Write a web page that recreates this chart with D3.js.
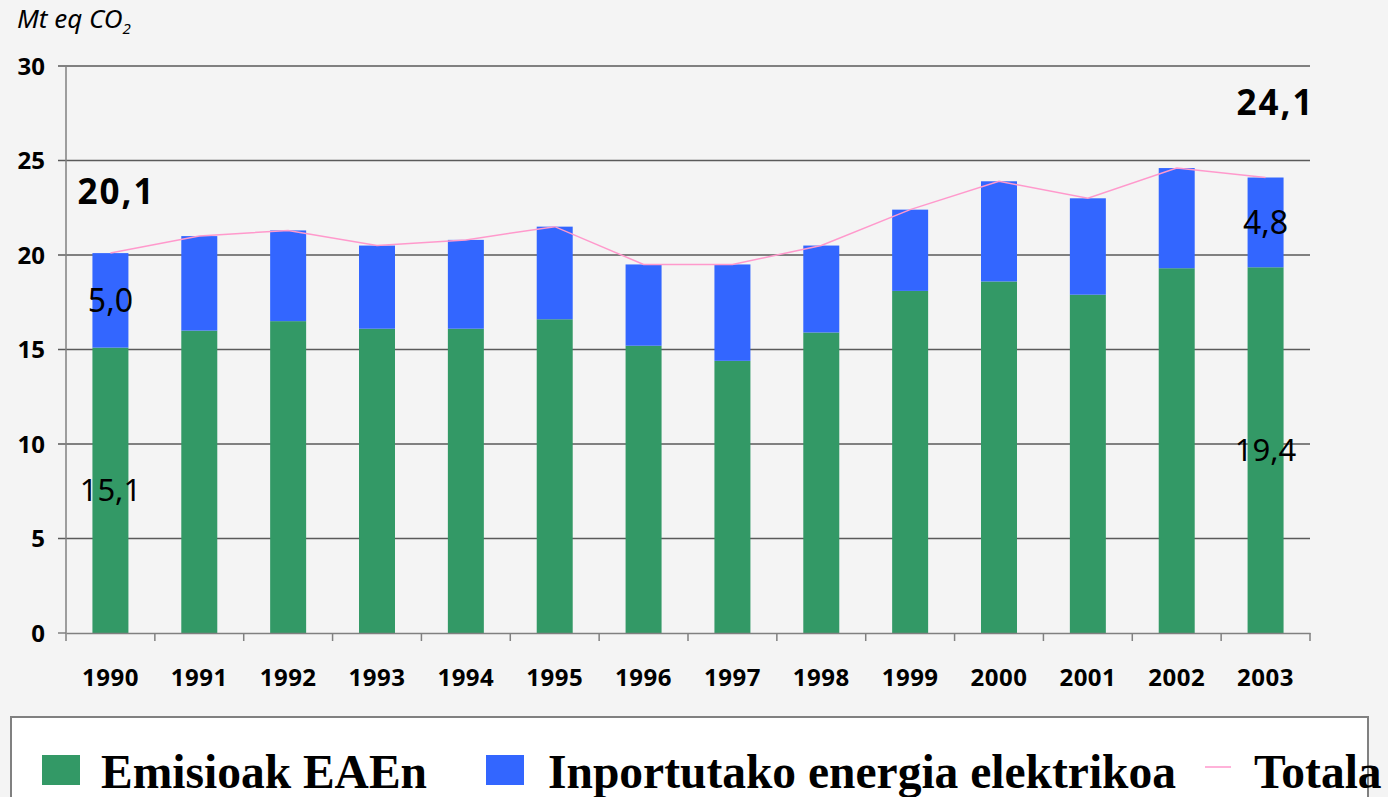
<!DOCTYPE html>
<html>
<head>
<meta charset="utf-8">
<script src="https://cdn.jsdelivr.net/npm/d3@7"></script>
<style>
    body { margin: 0; background: #f4f4f4; }
    svg { display: block; }
    .tick-label { font-family: "Comic Sans MS", "Noto Sans", sans-serif; font-weight: bold; font-size: 24px; fill: #000; }
    .legend-text { font-family: "Liberation Serif", "Times New Roman", serif; font-weight: bold; font-size: 47.5px; fill: #000; }
</style>
</head>
<body>
<div class="chart-container"></div>
<script>
// Data.
const years = [1990, 1991, 1992, 1993, 1994, 1995, 1996, 1997, 1998, 1999, 2000, 2001, 2002, 2003];
const emissions = [15.1, 16.0, 16.5, 16.1, 16.1, 16.6, 15.2, 14.4, 15.9, 18.1, 18.6, 17.9, 19.3, 19.35];
const imports = [5.0, 5.0, 4.8, 4.4, 4.7, 4.9, 4.3, 5.1, 4.6, 4.3, 5.3, 5.1, 5.3, 4.75];
const totals = [20.1, 21.0, 21.3, 20.5, 20.8, 21.5, 19.5, 19.5, 20.5, 22.4, 23.9, 23.0, 24.6, 24.1];
const yTicks = [0, 5, 10, 15, 20, 25, 30];
const labelledYears = [1990, 2003];
const seriesNames = ['Emisioak EAEn', 'Inportutako energia elektrikoa', 'Totala'];

const colors = { emissions: '#339966', imports: '#3366ff', total: '#ff99cc' };

const svg = d3
    .select('.chart-container')
    .append('svg')
    .attr('width', 1388)
    .attr('height', 797);

const locale = d3.formatLocale({ decimal: ',', thousands: '.', grouping: [3], currency: ['', ' €'] });
const fmt = locale.format('.1f');

ready();

function ready() {
    const area = { left: 66, right: 1310, top: 66, bottom: 633 };

    const xScale = d3
        .scaleBand()
        .domain(years)
        .range([area.left, area.right])
        .padding(0);

    const yScale = d3
        .scaleLinear()
        .domain([0, 30])
        .range([area.bottom, area.top]);

    const rows = years.map((year, i) => ({
        year: year,
        emissions: emissions[i],
        imports: imports[i],
        total: totals[i]
    }));

    drawGrid(area, yScale);
    drawBars(rows, xScale, yScale);
    drawLine(rows, xScale, yScale);
    drawAxis(area, xScale, yScale);
    drawLabels(rows, xScale, yScale);
    drawLegend();
}

function drawGrid(area, yScale) {
    svg.append('g')
        .selectAll('line')
        .data(yTicks.filter(t => t > 0))
        .enter()
        .append('line')
        .attr('x1', area.left - 8)
        .attr('x2', area.right)
        .attr('y1', d => yScale(d))
        .attr('y2', d => yScale(d))
        .attr('stroke', '#5a5a5a')
        .attr('stroke-width', 1.5);
}

function drawBars(rows, xScale, yScale) {
    const barWidth = xScale.bandwidth() * 0.405;
    const barX = d => xScale(d.year) + (xScale.bandwidth() - barWidth) / 2;

    const g = svg.append('g');

    g.selectAll('.bar-emissions')
        .data(rows)
        .enter()
        .append('rect')
        .attr('class', 'bar-emissions')
        .attr('x', barX)
        .attr('width', barWidth)
        .attr('y', d => yScale(d.emissions))
        .attr('height', d => yScale(0) - yScale(d.emissions))
        .style('fill', colors.emissions);

    g.selectAll('.bar-imports')
        .data(rows)
        .enter()
        .append('rect')
        .attr('class', 'bar-imports')
        .attr('x', barX)
        .attr('width', barWidth)
        .attr('y', d => yScale(d.emissions + d.imports))
        .attr('height', d => yScale(d.emissions) - yScale(d.emissions + d.imports))
        .style('fill', colors.imports);
}

function drawLine(rows, xScale, yScale) {
    const line = d3.line()
        .x(d => xScale(d.year) + xScale.bandwidth() / 2)
        .y(d => yScale(d.total));

    svg.append('path')
        .datum(rows)
        .attr('d', line)
        .attr('fill', 'none')
        .attr('stroke', colors.total)
        .attr('stroke-width', 1.5);
}

function drawAxis(area, xScale, yScale) {
    // y axis
    svg.append('line')
        .attr('x1', area.left).attr('x2', area.left)
        .attr('y1', area.top).attr('y2', area.bottom)
        .attr('stroke', '#808080')
        .attr('stroke-width', 1.5);

    svg.append('g')
        .selectAll('text')
        .data(yTicks)
        .enter()
        .append('text')
        .attr('class', 'tick-label')
        .attr('x', area.left - 21)
        .attr('y', d => yScale(d))
        .attr('dy', '0.36em')
        .attr('text-anchor', 'end')
        .text(d => d);

    svg.append('line')
        .attr('x1', area.left - 8).attr('x2', area.left)
        .attr('y1', area.bottom).attr('y2', area.bottom)
        .attr('stroke', '#808080')
        .attr('stroke-width', 1.5);

    // x axis
    const axisX = d3.axisBottom(xScale).tickSize(0).tickPadding(0);
    const gx = svg.append('g')
        .attr('transform', `translate(0, ${area.bottom})`)
        .call(axisX);
    gx.select('.domain').attr('stroke', '#808080').attr('stroke-width', 1.5);
    gx.selectAll('text')
        .attr('class', 'tick-label')
        .attr('y', 44)
        .attr('dy', '0.36em')
        .style('letter-spacing', '0.5px');
    gx.attr('font-size', null).attr('font-family', null);

    const boundaries = years.map(y => xScale(y)).concat([area.right]);
    svg.append('g')
        .selectAll('line')
        .data(boundaries)
        .enter()
        .append('line')
        .attr('x1', d => d).attr('x2', d => d)
        .attr('y1', area.bottom).attr('y2', area.bottom + 8)
        .attr('stroke', '#808080')
        .attr('stroke-width', 1.5);

    // unit
    const unit = svg.append('text')
        .attr('x', 17)
        .attr('y', 28)
        .style('font-family', '"Comic Sans MS", "Noto Sans", sans-serif')
        .style('font-style', 'italic')
        .style('font-size', '26px');
    unit.append('tspan').text('Mt eq CO');
    unit.append('tspan').attr('dy', 6).style('font-size', '15px').text('2');
}

function drawLabels(rows, xScale, yScale) {
    const picked = rows.filter(d => labelledYears.includes(d.year));
    const cx = d => xScale(d.year) + xScale.bandwidth() / 2;
    const font = '"Comic Sans MS", "Noto Sans", sans-serif';
    const g = svg.append('g').style('font-family', font);

    g.selectAll('.label-emissions')
        .data(picked)
        .enter()
        .append('text')
        .attr('x', cx)
        .attr('y', d => yScale(d.emissions / 2))
        .attr('dy', '0.36em')
        .attr('text-anchor', 'middle')
        .style('font-size', '31px')
        .text(d => fmt(d.emissions));

    g.selectAll('.label-imports')
        .data(picked)
        .enter()
        .append('text')
        .attr('x', cx)
        .attr('y', d => yScale(d.emissions + d.imports / 2))
        .attr('dy', '0.36em')
        .attr('text-anchor', 'middle')
        .style('font-size', '32px')
        .text(d => fmt(d.imports));

    // total labels sit above the bars, placed by hand in the original
    const shift = { 1990: [6, -62], 2003: [10, -75] };
    g.selectAll('.label-total')
        .data(picked)
        .enter()
        .append('text')
        .attr('x', d => cx(d) + shift[d.year][0])
        .attr('y', d => yScale(d.total) + shift[d.year][1])
        .attr('dy', '0.36em')
        .attr('text-anchor', 'middle')
        .style('font-size', '35px')
        .style('font-weight', 'bold')
        .style('letter-spacing', '2px')
        .text(d => fmt(d.total));
}

function drawLegend() {
    svg.append('rect')
        .attr('x', 11)
        .attr('y', 717)
        .attr('width', 1357)
        .attr('height', 100)
        .attr('fill', '#fff')
        .attr('stroke', '#808080')
        .attr('stroke-width', 2);

    const items = [
        { name: seriesNames[0], type: 'rect', color: colors.emissions, x: 42, tx: 101 },
        { name: seriesNames[1], type: 'rect', color: colors.imports, x: 486, tx: 548 },
        { name: seriesNames[2], type: 'line', color: colors.total, x: 1205, tx: 1254 }
    ];

    const g = svg.append('g');
    items.forEach(item => {
        if (item.type === 'rect') {
            g.append('rect')
                .attr('x', item.x)
                .attr('y', 755)
                .attr('width', 38)
                .attr('height', 30)
                .attr('fill', item.color);
        } else {
            g.append('line')
                .attr('x1', item.x).attr('x2', item.x + 26)
                .attr('y1', 767).attr('y2', 767)
                .attr('stroke', item.color)
                .attr('stroke-width', 1.5);
        }
        g.append('text')
            .attr('class', 'legend-text')
            .attr('x', item.tx)
            .attr('y', 788)
            .text(item.name);
    });
}
</script>
</body>
</html>
